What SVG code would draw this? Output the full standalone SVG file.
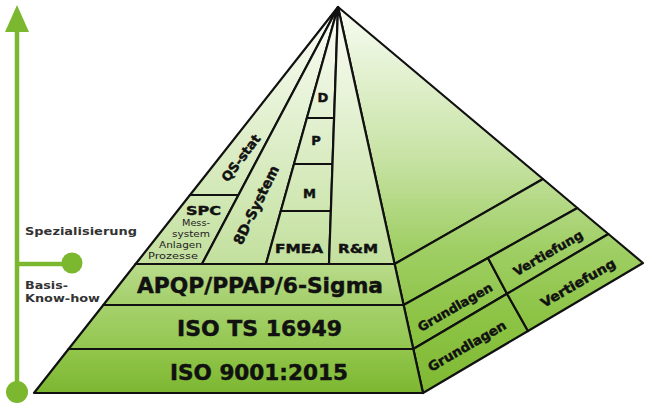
<svg xmlns="http://www.w3.org/2000/svg" width="646" height="403" viewBox="0 0 646 403">
<defs>
<linearGradient id="gFU" gradientUnits="userSpaceOnUse" x1="0" y1="7" x2="0" y2="264"><stop offset="0" stop-color="#fbfdf7"/><stop offset="1" stop-color="#c3e09e"/></linearGradient>
<linearGradient id="gAP" gradientUnits="userSpaceOnUse" x1="0" y1="264" x2="0" y2="305"><stop offset="0" stop-color="#b9db8b"/><stop offset="1" stop-color="#a3cf6a"/></linearGradient>
<linearGradient id="gTS" gradientUnits="userSpaceOnUse" x1="0" y1="305" x2="0" y2="349"><stop offset="0" stop-color="#a6d16c"/><stop offset="1" stop-color="#92c650"/></linearGradient>
<linearGradient id="g90" gradientUnits="userSpaceOnUse" x1="0" y1="349" x2="0" y2="393"><stop offset="0" stop-color="#92c64c"/><stop offset="1" stop-color="#7cb731"/></linearGradient>
<linearGradient id="gR" gradientUnits="userSpaceOnUse" x1="0" y1="7" x2="0" y2="393"><stop offset="0" stop-color="#f8fcf3"/><stop offset="0.4" stop-color="#c6e2a2"/><stop offset="0.62" stop-color="#a0cf66"/><stop offset="0.8" stop-color="#8dc446"/><stop offset="1" stop-color="#7fb932"/></linearGradient>
</defs>
<style>
.s{stroke:#111;stroke-width:2.2;stroke-linejoin:round}
.t{font-family:"DejaVu Sans",Verdana,sans-serif;font-weight:bold;fill:#111;stroke:#111;stroke-width:0.45}
.sm{font-family:"DejaVu Sans",Verdana,sans-serif;font-size:9px;fill:#222}
.ax{font-family:"DejaVu Sans",Verdana,sans-serif;font-weight:bold;font-size:10px;fill:#333}
.gr{fill:#7cb82f}
</style>
<rect width="646" height="403" fill="#ffffff"/>

<g id="axis">
<line x1="17" y1="28" x2="17" y2="392" stroke="#7cb82f" stroke-width="4.5"/>
<polygon class="gr" points="17,5 5,32 29,32"/>
<line x1="17" y1="264" x2="72" y2="264" stroke="#7cb82f" stroke-width="4.5"/>
<circle class="gr" cx="72" cy="263" r="10.5"/>
<circle class="gr" cx="17" cy="392" r="11"/>
<text class="ax" x="25" y="235" textLength="112" lengthAdjust="spacingAndGlyphs">Spezialisierung</text>
<text class="ax" x="25" y="289" textLength="43" lengthAdjust="spacingAndGlyphs">Basis-</text>
<text class="ax" x="25" y="302" textLength="75" lengthAdjust="spacingAndGlyphs">Know-how</text>
</g>

<g id="right-top"><polygon class="s" fill="url(#gR)" points="338,7 543,179 394.6,264"/></g>
<g id="right-band1"><polygon class="s" fill="url(#gR)" points="394.6,264 543,179 577.4,208 403.6,305"/></g>
<g id="right-grundlagen-1"><polygon class="s" fill="url(#gR)" points="403.6,305 488,258 507,293.8 413.3,349"/>
<text class="t" font-size="12.5" transform="translate(455,307) rotate(-30)" x="0" y="4.5" text-anchor="middle" textLength="84" lengthAdjust="spacingAndGlyphs">Grundlagen</text></g>
<g id="right-vertiefung-1"><polygon class="s" fill="url(#gR)" points="488,258 577.4,208 608.4,234 507,293.8"/>
<text class="t" font-size="12.5" transform="translate(548,253) rotate(-30)" x="0" y="4.5" text-anchor="middle" textLength="78" lengthAdjust="spacingAndGlyphs">Vertiefung</text></g>
<g id="right-grundlagen-2"><polygon class="s" fill="url(#gR)" points="413.3,349 507,293.8 528,331 423,393"/>
<text class="t" font-size="13" transform="translate(467,346) rotate(-30)" x="0" y="4.5" text-anchor="middle" textLength="88" lengthAdjust="spacingAndGlyphs">Grundlagen</text></g>
<g id="right-vertiefung-2"><polygon class="s" fill="url(#gR)" points="507,293.8 608.4,234 643,263 528,331"/>
<text class="t" font-size="13" transform="translate(578,283) rotate(-30)" x="0" y="4.5" text-anchor="middle" textLength="84" lengthAdjust="spacingAndGlyphs">Vertiefung</text></g>

<g id="qs-stat"><polygon class="s" fill="url(#gFU)" points="338,7 190,195 238.5,195"/>
<text class="t" font-size="13" transform="translate(241,158) rotate(-53)" x="0" y="4.5" text-anchor="middle" textLength="55" lengthAdjust="spacingAndGlyphs">QS-stat</text></g>
<g id="spc"><polygon class="s" fill="url(#gFU)" points="190,195 135.6,264 202,264 238.5,195"/>
<text class="t" font-size="13" x="203.5" y="215" text-anchor="middle" textLength="35" lengthAdjust="spacingAndGlyphs">SPC</text>
<text class="sm" x="196" y="226" text-anchor="middle" textLength="28" lengthAdjust="spacingAndGlyphs">Mess-</text>
<text class="sm" x="191" y="236.5" text-anchor="middle" textLength="38" lengthAdjust="spacingAndGlyphs">system</text>
<text class="sm" x="180.5" y="247.5" text-anchor="middle" textLength="43" lengthAdjust="spacingAndGlyphs">Anlagen</text>
<text class="sm" x="173" y="259" text-anchor="middle" textLength="50" lengthAdjust="spacingAndGlyphs">Prozesse</text></g>
<g id="8d-system"><polygon class="s" fill="url(#gFU)" points="338,7 202,264 266,264"/>
<text class="t" font-size="14" transform="translate(256,205) rotate(-64)" x="0" y="5" text-anchor="middle" textLength="86" lengthAdjust="spacingAndGlyphs">8D-System</text></g>
<g id="d"><polygon class="s" fill="url(#gFU)" points="338,7 306.9,118 334.1,118"/>
<text class="t" font-size="13" x="323" y="102" text-anchor="middle">D</text></g>
<g id="p"><polygon class="s" fill="url(#gFU)" points="306.9,118 294,164 332.5,164 334.1,118"/>
<text class="t" font-size="13" x="316" y="145" text-anchor="middle">P</text></g>
<g id="m"><polygon class="s" fill="url(#gFU)" points="294,164 280.8,211 330.9,211 332.5,164"/>
<text class="t" font-size="13" x="309.5" y="198" text-anchor="middle">M</text></g>
<g id="fmea"><polygon class="s" fill="url(#gFU)" points="280.8,211 266,264 329,264 330.9,211"/>
<text class="t" font-size="13" x="299" y="253" text-anchor="middle" textLength="48" lengthAdjust="spacingAndGlyphs">FMEA</text></g>
<g id="r-m"><polygon class="s" fill="url(#gFU)" points="338,7 329,264 394.6,264"/>
<text class="t" font-size="13" x="358" y="253" text-anchor="middle" textLength="40" lengthAdjust="spacingAndGlyphs">R&amp;M</text></g>

<g id="apqp"><polygon class="s" fill="url(#gAP)" points="135.6,264 394.6,264 403.6,305 103.3,305"/>
<text class="t" font-size="21" x="260" y="292.5" text-anchor="middle" textLength="246" lengthAdjust="spacingAndGlyphs">APQP/PPAP/6-Sigma</text></g>
<g id="iso-ts"><polygon class="s" fill="url(#gTS)" points="103.3,305 403.6,305 413.3,349 68.6,349"/>
<text class="t" font-size="21" x="259.5" y="335.5" text-anchor="middle" textLength="165" lengthAdjust="spacingAndGlyphs">ISO TS 16949</text></g>
<g id="iso-9001"><polygon class="s" fill="url(#g90)" points="68.6,349 413.3,349 423,393 34,393"/>
<text class="t" font-size="21" x="259" y="380" text-anchor="middle" textLength="178" lengthAdjust="spacingAndGlyphs">ISO 9001:2015</text></g>
</svg>
